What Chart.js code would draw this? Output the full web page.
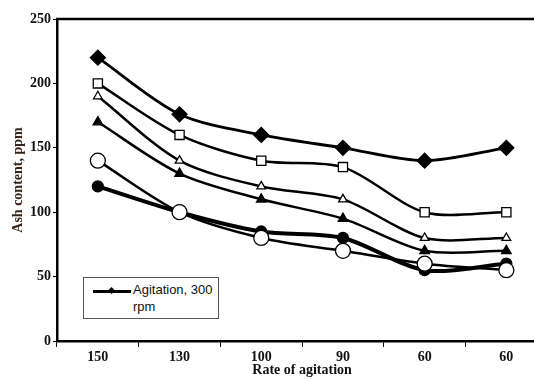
<!DOCTYPE html>
<html>
<head>
<meta charset="utf-8">
<script src="https://cdn.jsdelivr.net/npm/chart.js@4"></script>
<style>
  html, body { margin: 0; padding: 0; background: #fff; }
  body { width: 534px; height: 379px; overflow: hidden; position: relative; }
  #chart { display: block; }
  .legend {
    position: absolute; left: 83px; top: 277px; width: 134px; height: 40px;
    border: 1px solid #555; background: #fff;
    font-family: "Liberation Sans", Arial, sans-serif; font-size: 13px; color: #111;
  }
  .legend .sample { position: absolute; left: 9px; top: 12px; width: 38px; height: 3px; background: #000; }
  .legend .sample i {
    position: absolute; left: 16px; top: -2px; width: 5px; height: 5px;
    background: #000; transform: rotate(45deg);
  }
  .legend .t1 { position: absolute; left: 49px; top: 4px; line-height: 15px; }
  .legend .t2 { position: absolute; left: 49px; top: 21px; line-height: 15px; }
</style>
</head>
<body>
<canvas id="chart" width="556" height="379"></canvas>
<div class="legend"><span class="sample"><i></i></span><span class="t1">Agitation, 300</span><span class="t2">rpm</span></div>
<script>
var rates = ["150", "130", "100", "90", "60", "60"];

var diamondFilled = [220, 176, 160, 150, 140, 150];
var squareOpen = [200, 160, 140, 135, 100, 100];
var triangleOpen = [190, 140, 120, 110, 80, 80];
var triangleFilled = [170, 130, 110, 95, 70, 70];
var circleOpen = [140, 100, 80, 70, 60, 55];
var circleFilled = [120, 100, 85, 80, 55, 60];

var yTicks = [0, 50, 100, 150, 200, 250];

var AXIS_FONT = { family: "'Liberation Serif', 'Times New Roman', serif", size: 14, weight: "bold" };

function series(label, data, style, radius, filled, width) {
  return {
    label: label,
    data: data,
    borderColor: "#000",
    borderWidth: width,
    pointStyle: style,
    pointRadius: radius,
    pointHoverRadius: radius,
    pointBackgroundColor: filled ? "#000" : "#fff",
    pointBorderColor: "#000",
    pointBorderWidth: 1.3,
    tension: 0.3,
    fill: false,
  };
}

var topBorder = {
  id: "topBorder",
  afterDraw: function (chart) {
    var a = chart.chartArea;
    var c = chart.ctx;
    c.save();
    c.strokeStyle = "#000";
    c.lineWidth = 2.5;
    c.beginPath();
    c.moveTo(a.left - 1, a.top);
    c.lineTo(a.right, a.top);
    c.stroke();
    c.restore();
  },
};

new Chart(document.getElementById("chart"), {
  type: "line",
  data: {
    labels: rates,
    datasets: [
      series("Agitation, 300 rpm", diamondFilled, "rectRot", 7.5, true, 2.8),
      series("Square", squareOpen, "rect", 6.5, false, 2.5),
      series("Open triangle", triangleOpen, "triangle", 5, false, 2.5),
      series("Filled triangle", triangleFilled, "triangle", 5.5, true, 2.5),
      series("Open circle", circleOpen, "circle", 7.5, false, 2.5),
      series("Filled circle", circleFilled, "circle", 5.5, true, 4),
    ],
  },
  plugins: [topBorder],
  options: {
    responsive: false,
    animation: false,
    layout: { padding: { top: 19, right: 3, left: 0, bottom: 0 } },
    plugins: {
      legend: { display: false },
      tooltip: { enabled: false },
    },
    scales: {
      x: {
        offset: true,
        border: { display: true, color: "#000", width: 2.5 },
        grid: { display: true, offset: true, drawOnChartArea: false, color: "#000", tickLength: 6, lineWidth: 1 },
        ticks: { color: "#111", font: AXIS_FONT, padding: 2, maxRotation: 0 },
        title: { display: true, text: "Rate of agitation", color: "#111", font: AXIS_FONT, padding: { top: 3, bottom: 0 } },
        afterFit: function (scale) { scale.height = 38; },
      },
      y: {
        min: 0,
        max: 250,
        afterBuildTicks: function (scale) {
          scale.ticks = yTicks.map(function (v) { return { value: v }; });
        },
        border: { display: true, color: "#000", width: 2.5 },
        grid: { display: true, drawOnChartArea: false, color: "#000", tickLength: 4, lineWidth: 1 },
        ticks: { color: "#111", font: AXIS_FONT, padding: 2 },
        title: { display: true, text: "Ash content, ppm", color: "#3a2418", font: AXIS_FONT, padding: { top: 10, bottom: 0 } },
        afterFit: function (scale) { scale.width = 57; },
      },
    },
  },
});
</script>
</body>
</html>
